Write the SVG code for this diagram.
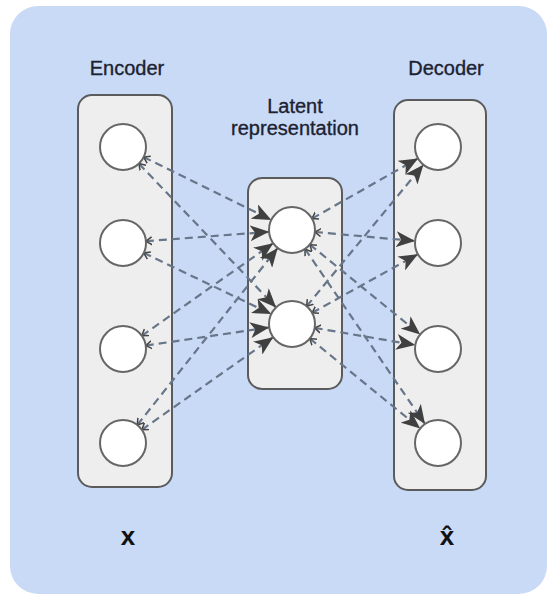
<svg xmlns="http://www.w3.org/2000/svg" width="548" height="595" viewBox="0 0 548 595">
<style>
.bg{fill:#c9daf7;}
.box{fill:#eeeeee;stroke:#5b5b5b;stroke-width:2;}
.node{fill:#ffffff;stroke:#666666;stroke-width:2;}
.lbl{font-family:"Liberation Sans",Arial,sans-serif;font-size:20px;fill:#1c2231;stroke:#1c2231;stroke-width:0.35;text-anchor:middle;}
.var{font-family:"Liberation Sans",Arial,sans-serif;font-size:26px;font-weight:bold;fill:#111;text-anchor:middle;}
.edge{fill:none;stroke:#68768a;stroke-width:2.2;stroke-dasharray:8 5;marker-end:url(#big);marker-start:url(#small);}
</style>
<defs>
<marker id="big" markerUnits="userSpaceOnUse" markerWidth="20" markerHeight="16" refX="19" refY="8" orient="auto" viewBox="0 0 20 16">
<path d="M0,0 L19,8 L0,16 L5,8 Z" fill="#404040"/>
</marker>
<marker id="small" markerUnits="userSpaceOnUse" markerWidth="8" markerHeight="10" refX="6" refY="5" orient="auto-start-reverse" viewBox="0 0 8 10">
<path d="M0,1 L6,5 L0,9" fill="none" stroke="#454545" stroke-width="1.5"/>
</marker>
</defs>
<rect class="bg" x="10" y="6" width="537" height="588" rx="28"/>
<g id="encoder">
<rect class="box" x="78" y="95" width="94" height="392" rx="14"/>
<text class="lbl" x="127" y="75">Encoder</text>
</g>
<g id="latent">
<rect class="box" x="248" y="178" width="94" height="211" rx="14"/>
<text class="lbl" x="295" y="113">Latent</text>
<text class="lbl" x="295" y="135">representation</text>
</g>
<g id="decoder">
<rect class="box" x="394" y="100" width="92" height="390" rx="14"/>
<text class="lbl" x="446" y="75">Decoder</text>
</g>
<g id="connectors">
<line class="edge" x1="143.6" y1="157.1" x2="271.4" y2="219.9"/>
<line class="edge" x1="138.9" y1="163.6" x2="276.1" y2="307.4"/>
<line class="edge" x1="145.9" y1="241.2" x2="269.1" y2="231.8"/>
<line class="edge" x1="143.7" y1="252.9" x2="271.3" y2="314.1"/>
<line class="edge" x1="141.8" y1="335.8" x2="273.2" y2="243.2"/>
<line class="edge" x1="145.8" y1="345.6" x2="269.2" y2="327.4"/>
<line class="edge" x1="137.3" y1="425.0" x2="277.7" y2="248.0"/>
<line class="edge" x1="141.8" y1="429.8" x2="273.2" y2="337.2"/>
<line class="edge" x1="312.0" y1="218.6" x2="418.0" y2="158.4"/>
<line class="edge" x1="314.9" y1="232.0" x2="415.1" y2="241.0"/>
<line class="edge" x1="309.8" y1="244.5" x2="420.2" y2="334.5"/>
<line class="edge" x1="305.0" y1="249.0" x2="425.0" y2="424.0"/>
<line class="edge" x1="306.6" y1="306.3" x2="423.4" y2="164.7"/>
<line class="edge" x1="312.1" y1="312.8" x2="417.9" y2="254.2"/>
<line class="edge" x1="314.7" y1="327.9" x2="415.3" y2="345.1"/>
<line class="edge" x1="309.8" y1="338.5" x2="420.2" y2="428.5"/>
</g>
<g id="enc-n1"><circle class="node" cx="123" cy="147" r="23"/></g>
<g id="enc-n2"><circle class="node" cx="123" cy="243" r="23"/></g>
<g id="enc-n3"><circle class="node" cx="123" cy="349" r="23"/></g>
<g id="enc-n4"><circle class="node" cx="123" cy="443" r="23"/></g>
<g id="lat-n1"><circle class="node" cx="292" cy="230" r="23"/></g>
<g id="lat-n2"><circle class="node" cx="292" cy="324" r="23"/></g>
<g id="dec-n1"><circle class="node" cx="438" cy="147" r="23"/></g>
<g id="dec-n2"><circle class="node" cx="438" cy="243" r="23"/></g>
<g id="dec-n3"><circle class="node" cx="438" cy="349" r="23"/></g>
<g id="dec-n4"><circle class="node" cx="438" cy="443" r="23"/></g>
<g id="x-label"><text class="var" x="128" y="545">x</text></g>
<g id="xhat-label"><text class="var" x="447" y="545" font-size="28">x̂</text></g>
</svg>
